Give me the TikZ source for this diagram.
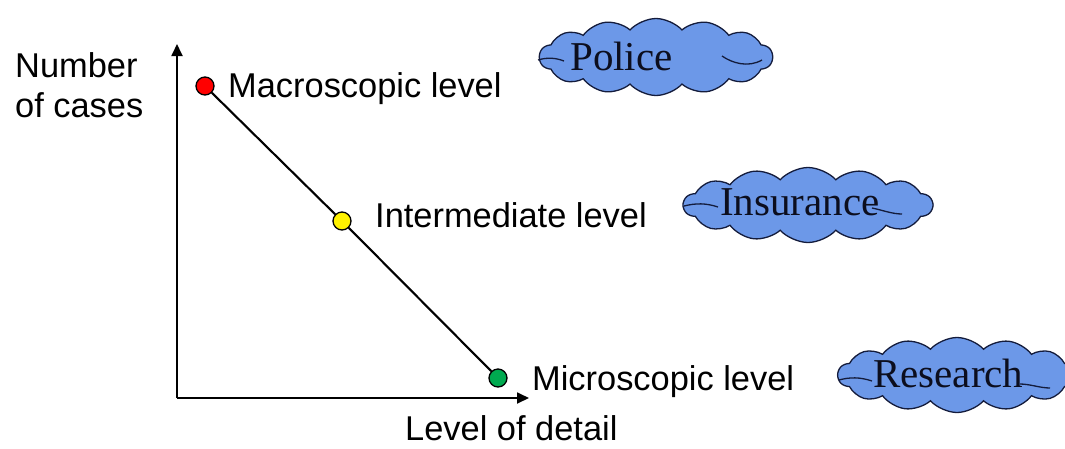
\documentclass[tikz,border=0pt]{standalone}
\usepackage{fontspec}
\setmainfont{Liberation Sans}
\newfontfamily\cloudfont{Liberation Serif}
\usetikzlibrary{arrows.meta,shapes.symbols}
\definecolor{cloudfill}{RGB}{108,152,232}
\definecolor{cloudline}{RGB}{20,28,60}
\definecolor{cloudtext}{RGB}{12,14,30}
\definecolor{dotgreen}{RGB}{0,170,80}
\tikzset{
  lbl/.style={anchor=base west,inner sep=0pt,font=\fontsize{34.4}{40}\selectfont},
  dot/.style={circle,draw=black,line width=1.3pt,minimum size=18pt,inner sep=0pt},
  axis/.style={line width=1.8pt,-{Triangle[length=12pt,width=11pt]}},
  puff/.style={cloud,cloud puffs=14,cloud puff arc=95,aspect=3.1,draw=cloudline,
    fill=cloudfill,line width=1.3pt,inner sep=0pt},
  tail/.style={draw=cloudline,line width=1.3pt},
  ctext/.style={anchor=base west,inner sep=0pt,font=\cloudfont\fontsize{41}{41}\selectfont,text=cloudtext}
}
\begin{document}
\begin{tikzpicture}[x=1pt,y=-1pt]
\useasboundingbox (0,0) rectangle (1065,448);

% axes
\coordinate (O) at (177,398);
\coordinate (ytop) at (177,44);
\coordinate (xend) at (529,398);
\draw[axis] (O) -- (ytop);
\draw[axis] (O) -- (xend);

% axis titles
\node[lbl] (ylab) at (15,77) {Number};
\node[lbl] (ylab2) at (15,117) {of cases};
\node[lbl] (xlab) at (405,440) {Level of detail};

% levels
\node[dot,fill=red] (mac) at (205,86) {};
\node[dot,fill=yellow] (int) at (342,221) {};
\node[dot,fill=dotgreen] (mic) at (498,378) {};
\draw[line width=2.1pt] (mac) -- (int) -- (mic);

\node[lbl] (macl) at (228,97) {Macroscopic level};
\node[lbl] (intl) at (375,227) {Intermediate level};
\node[lbl] (micl) at (532,390) {Microscopic level};

% clouds
\node[puff,minimum width=233pt,minimum height=77pt] (police) at (656,57) {};
\node[puff,minimum width=249pt,minimum height=75pt] (insur) at (808,205) {};
\node[puff,minimum width=238pt,minimum height=75pt] (resch) at (957,375) {};

\draw[tail] (538,60) .. controls (548,57) and (556,58) .. (564,61);
\draw[tail] (722,56) .. controls (732,63) and (748,68) .. (762,60);
\draw[tail] (684,206) .. controls (696,203) and (706,203) .. (718,207);
\draw[tail] (872,208) .. controls (882,210) and (892,214) .. (902,214);
\draw[tail] (839,380) .. controls (850,377) and (860,377) .. (872,381);
\draw[tail] (1020,384) .. controls (1030,384) and (1040,388) .. (1050,388);

\node[ctext] (policet) at (570,70) {Police};
\node[ctext] (insurt) at (720,215) {Insurance};
\node[ctext] (rescht) at (873,387) {Research};
\end{tikzpicture}
\end{document}
